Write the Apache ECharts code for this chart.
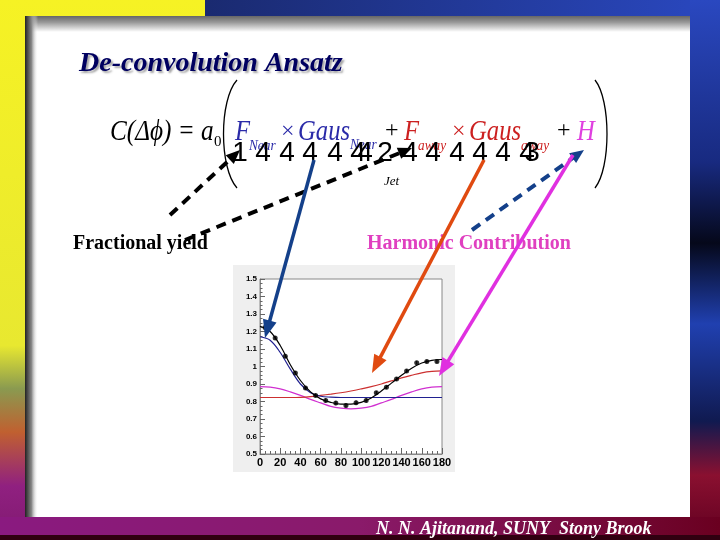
<!DOCTYPE html>
<html><head><meta charset="utf-8">
<script src="https://cdn.jsdelivr.net/npm/echarts@6/dist/echarts.min.js"></script>
<style>html,body{margin:0;padding:0;background:#fff}#c{width:720px;height:540px}</style>
</head><body><div id="c"></div>
<script>
// ---- data ----
const ptX = [5,15,25,35,45,55,65,75,85,95,105,115,125,135,145,155,165,175];
const ptY = [1.223,1.163,1.058,0.963,0.877,0.835,0.806,0.791,0.777,0.793,0.806,0.850,0.882,0.928,0.974,1.022,1.028,1.028];
const ptErr = [0.010,0.010,0.010,0.010,0.010,0.010,0.012,0.012,0.012,0.012,0.012,0.010,0.010,0.010,0.010,0.010,0.010,0.010];
const curveX = [0,10,20,30,40,50,60,70,80,90,100,110,120,130,140,150,160,170,180];
const fitTotal = [1.230,1.200,1.120,1.010,0.920,0.855,0.815,0.795,0.785,0.785,0.795,0.820,0.860,0.905,0.950,0.990,1.020,1.035,1.040];
const fitNear  = [1.170,1.150,1.080,0.985,0.900,0.850,0.830,0.825,0.823,0.823,0.823,0.823,0.823,0.823,0.823,0.823,0.823,0.823,0.823];
const fitAway  = [0.823,0.823,0.823,0.823,0.824,0.828,0.835,0.842,0.850,0.860,0.872,0.885,0.900,0.918,0.935,0.950,0.964,0.972,0.975];
const fitHarm  = [0.885,0.882,0.872,0.855,0.835,0.812,0.792,0.772,0.762,0.758,0.762,0.772,0.792,0.812,0.835,0.855,0.872,0.882,0.885];
const xTicks = [0,20,40,60,80,100,120,140,160,180];
const yTicks = [0.5,0.6,0.7,0.8,0.9,1.0,1.1,1.2,1.3,1.4,1.5];

const pair = (xs, ys) => xs.map((x,i)=>[x, ys[i]]);

function arrow(x1,y1,x2,y2,color,w,dashed,hl,hw){
  const dx=x2-x1, dy=y2-y1, L=Math.hypot(dx,dy), ux=dx/L, uy=dy/L;
  const bx=x2-ux*hl, by=y2-uy*hl;
  const px=-uy, py=ux;
  return [
    {type:'line', z:100, shape:{x1:x1,y1:y1,x2:bx+ux*2,y2:by+uy*2},
     style:{stroke:color,lineWidth:w,lineDash:dashed?[10,7]:null}},
    {type:'polygon', z:100, shape:{points:[[x2,y2],[bx+px*hw,by+py*hw],[bx-px*hw,by-py*hw]]},
     style:{fill:color}}
  ];
}

const chart = echarts.init(document.getElementById('c'), null, {renderer:'canvas'});
const serif = '"Liberation Serif","Times New Roman",serif';

const graphics = [];
// frame background
graphics.push({type:'rect', z:-30, shape:{x:0,y:0,width:720,height:540},
  style:{fill:new echarts.graphic.LinearGradient(0,0,0,1,[
    {offset:0,color:'#f6f224'},{offset:0.64,color:'#e8e830'},{offset:0.72,color:'#8a9a50'},
    {offset:0.8,color:'#c06030'},{offset:0.9,color:'#902080'},{offset:1,color:'#801a70'}])}});
graphics.push({type:'rect', z:-29, shape:{x:205,y:0,width:515,height:17},
  style:{fill:new echarts.graphic.LinearGradient(0,0,1,0,[{offset:0,color:'#1a2a70'},{offset:1,color:'#2a48c0'}])}});
graphics.push({type:'rect', z:-29, shape:{x:690,y:0,width:30,height:540},
  style:{fill:new echarts.graphic.LinearGradient(0,0,0,1,[
    {offset:0,color:'#2a48c0'},{offset:0.3,color:'#182a80'},{offset:0.45,color:'#05081a'},
    {offset:0.6,color:'#2040b0'},{offset:0.78,color:'#101a50'},{offset:0.88,color:'#8a1030'},{offset:1,color:'#600020'}])}});
graphics.push({type:'rect', z:-29, shape:{x:0,y:517,width:720,height:23},
  style:{fill:new echarts.graphic.LinearGradient(0,0,1,0,[
    {offset:0,color:'#8a1a80'},{offset:0.5,color:'#8a1a6a'},{offset:1,color:'#6a0020'}])}});
graphics.push({type:'rect', z:-29, shape:{x:0,y:535,width:720,height:5}, style:{fill:'#300010'}});
// slide with shadow
graphics.push({type:'rect', z:-28, shape:{x:25,y:16,width:665,height:501}, style:{fill:'#fff'}});
graphics.push({type:'rect', z:-27, shape:{x:25,y:16,width:665,height:16},
  style:{fill:new echarts.graphic.LinearGradient(0,0,0,1,[{offset:0,color:'#666'},{offset:0.4,color:'#999'},{offset:1,color:'#fff'}])}});
graphics.push({type:'rect', z:-26, shape:{x:25,y:16,width:13,height:501},
  style:{fill:new echarts.graphic.LinearGradient(0,0,1,0,[{offset:0,color:'#222'},{offset:0.5,color:'#888'},{offset:1,color:'rgba(255,255,255,0)'}])}});
// chart panel
graphics.push({type:'rect', z:-20, shape:{x:233,y:265,width:222,height:207}, style:{fill:'#efefef'}});

// title
graphics.push({type:'text', z:50, x:79, y:64, style:{text:'De-convolution Ansatz', font:'italic bold 28px '+serif,
  fill:'#000060', textVerticalAlign:'middle', textShadowColor:'rgba(0,0,0,0.35)', textShadowOffsetX:2, textShadowOffsetY:2, textShadowBlur:2}});

// formula
const fy = 132;
function ftext(x,y,t,size,color,italic,sx){
  graphics.push({type:'text', z:50, x:x, y:y, scaleX:sx||1, style:{text:t, font:(italic?'italic ':'')+size+'px '+serif, fill:color, textVerticalAlign:'middle'}});
}
ftext(110,fy,'C(Δϕ) = a',30,'#000',true,0.84);
ftext(214,fy+10,'0',15,'#000',false);
graphics.push({type:'bezierCurve', z:50, shape:{x1:237,y1:80,cpx1:219,cpy1:100,cpx2:219,cpy2:168,x2:237,y2:188}, style:{stroke:'#000',lineWidth:1.3,fill:null}});
graphics.push({type:'bezierCurve', z:50, shape:{x1:595,y1:80,cpx1:611,cpy1:100,cpx2:611,cpy2:168,x2:595,y2:188}, style:{stroke:'#000',lineWidth:1.3,fill:null}});
const blue='#2a2aa8', red='#cc2020';
ftext(235,fy,'F',29,blue,true,0.85);
ftext(249,fy+14,'Near',14,blue,true,0.95);
ftext(281,fy,'×',24,blue,false);
ftext(298,fy,'Gaus',29,blue,true,0.85);
ftext(350,fy+13,'Near',14,blue,true,0.95);
ftext(385,fy-1,'+',24,'#000',false);
ftext(404,fy,'F',29,red,true,0.85);
ftext(418,fy+14,'away',14,red,true,0.95);
ftext(452,fy,'×',24,red,false);
ftext(469,fy,'Gaus',29,red,true,0.85);
ftext(521,fy+14,'away',14,red,true,0.95);
ftext(557,fy-1,'+',24,'#000',false);
ftext(577,fy,'H',29,'#e040e0',true,0.85);
const braceChars = ['1','4','4','4','4','4','4','2','4','4','4','4','4','4','3'];
const braceCx    = [240,263,287,310,335,358,365,385,410,433,457,480,503,527,532];
braceChars.forEach((c,i)=>{
  graphics.push({type:'text', z:51, x:braceCx[i], y:153, style:{text:c, font:'28px "Liberation Sans",Arial,sans-serif', fill:'#000', textVerticalAlign:'middle', textAlign:'center'}});
});
ftext(384,182,'Jet',13,'#000',true);

graphics.push({type:'text', z:50, x:73, y:244, style:{text:'Fractional yield', font:'bold 20px '+serif, fill:'#000', textVerticalAlign:'middle'}});
graphics.push({type:'text', z:50, x:367, y:244, style:{text:'Harmonic Contribution', font:'bold 20px '+serif, fill:'#e040c0', textVerticalAlign:'middle'}});
graphics.push({type:'text', z:50, x:376, y:529, style:{text:'N. N. Ajitanand, SUNY  Stony Brook', font:'italic bold 18px '+serif, fill:'#fff', textVerticalAlign:'middle'}});

// arrows
[].concat(
  arrow(170,215,240,150,'#000',4,true,14,6),
  arrow(185,240,412,148,'#000',4,true,14,6),
  arrow(472,230,584,150,'#14408a',4,true,14,6),
  arrow(314,160,265,338,'#14408a',3.5,false,18,7),
  arrow(484,160,372,373,'#e04a10',3.5,false,18,7),
  arrow(573,155,439,376,'#e030e0',3.5,false,18,7)
).forEach(g=>graphics.push(g));

const lineS = (name, data, color, w) => ({type:'line', name, data:pair(curveX,data), smooth:0.35, showSymbol:false,
  lineStyle:{color, width:w}, z:3, silent:true});

chart.setOption({
  animation:false,
  backgroundColor:'transparent',
  graphic:graphics,
  grid:{left:260, top:279, width:182, height:175, show:true, backgroundColor:'#fff', borderColor:'#888', borderWidth:1},
  xAxis:{type:'value', min:0, max:180, interval:20,
    axisLine:{show:true, lineStyle:{color:'#888'}}, splitLine:{show:false},
    axisTick:{inside:true, length:6, lineStyle:{color:'#666'}},
    minorTick:{show:true, splitNumber:4, length:3, lineStyle:{color:'#666'}},
    axisLabel:{color:'#000', fontWeight:'bold', fontSize:11, fontFamily:'"Liberation Sans",Arial', margin:3}},
  yAxis:{type:'value', min:0.5, max:1.5, interval:0.1,
    axisLine:{show:true, lineStyle:{color:'#888'}}, splitLine:{show:false},
    axisTick:{inside:true, length:5, lineStyle:{color:'#666'}},
    minorTick:{show:true, splitNumber:4, length:2.5, lineStyle:{color:'#666'}},
    axisLabel:{color:'#000', fontWeight:'bold', fontSize:8, fontFamily:'"Liberation Sans",Arial', margin:3,
      formatter:v=>{const r=Math.round(v*10)/10; return r===1?'1':r.toFixed(1);}}},
  series:[
    lineS('harmonic', fitHarm, '#d030d0', 1.2),
    lineS('away', fitAway, '#cc3030', 1.2),
    lineS('near', fitNear, '#202090', 1.2),
    lineS('total', fitTotal, '#000', 1.2),
    {type:'custom', name:'err', z:4, silent:true,
     data:ptX.map((x,i)=>[x, ptY[i]-ptErr[i], ptY[i]+ptErr[i]]),
     renderItem:(p,api)=>{
       const a=api.coord([api.value(0),api.value(1)]), b=api.coord([api.value(0),api.value(2)]);
       return {type:'line', shape:{x1:a[0],y1:a[1],x2:b[0],y2:b[1]}, style:{stroke:'#000',lineWidth:1}};
     }},
    {type:'scatter', name:'data', z:5, data:pair(ptX,ptY), symbol:'circle', symbolSize:5, itemStyle:{color:'#000'}}
  ]
});
</script></body></html>
